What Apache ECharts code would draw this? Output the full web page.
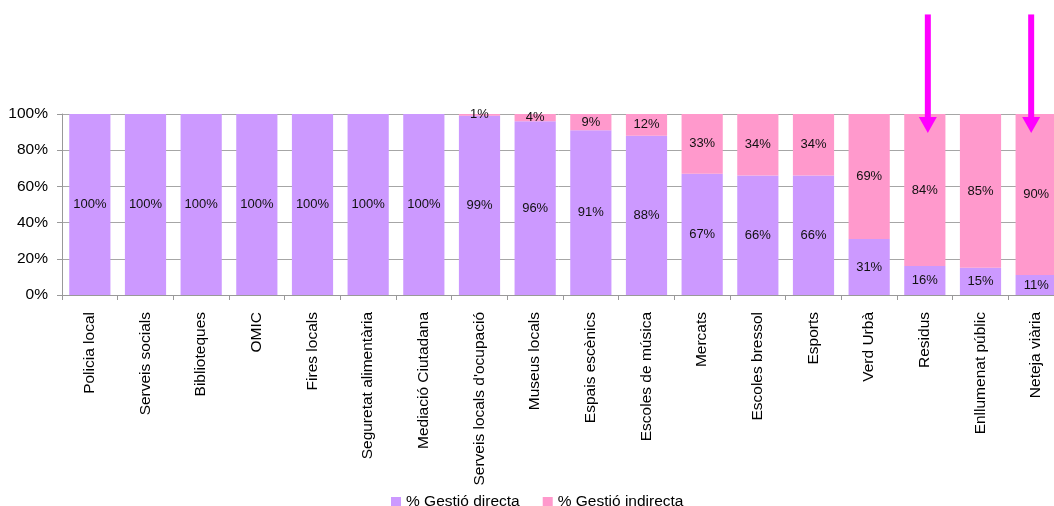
<!DOCTYPE html>
<html>
<head>
<meta charset="utf-8">
<script src="https://cdn.jsdelivr.net/npm/echarts@6/dist/echarts.min.js"></script>
<style>
  html, body { margin: 0; padding: 0; background: #fff; }
  #chart { width: 1054px; height: 506px; }
</style>
</head>
<body>
<div id="chart"></div>
<script>
// categories and values
const categories = ['Policia local', 'Serveis socials', 'Biblioteques', 'OMIC', 'Fires locals',
  'Seguretat alimentària', 'Mediació Ciutadana', "Serveis locals d'ocupació", 'Museus locals',
  'Espais escènics', 'Escoles de música', 'Mercats', 'Escoles bressol', 'Esports', 'Verd Urbà',
  'Residus', 'Enllumenat públic', 'Neteja viària']
const directa = [100, 100, 100, 100, 100, 100, 100, 99, 96, 91, 88, 67, 66, 66, 31, 16, 15, 11]
const indirecta = [0, 0, 0, 0, 0, 0, 0, 1, 4, 9, 12, 33, 34, 34, 69, 84, 85, 90]
const yTicks = [0, 20, 40, 60, 80, 100]
// arrows point down onto these categories
const arrowCats = ['Residus', 'Neteja viària']
const arrowFrom = 155
const arrowTo = 89.5

const chart = echarts.init(document.getElementById('chart'))
const font = 'Arial, "Liberation Sans", sans-serif'
const arrowShift = [3, -5]  // hand-drawn arrows sit a little off centre

const pctLabel = {
  show: true,
  position: 'inside',
  color: '#111',
  fontSize: 13,
  fontFamily: font,
  formatter: p => (p.value > 0 ? p.value + '%' : '')
}

const option = {
  animation: false,
  // the plot runs past the right edge of the picture, like the reference
  grid: { left: 62, top: 114, bottom: 211, width: 1002, containLabel: false, outerBoundsMode: 'none' },
  legend: {
    top: 489,
    left: 386,
    itemWidth: 10,
    itemHeight: 10,
    itemGap: 23,
    icon: 'rect',
    textStyle: { fontSize: 15.5, fontFamily: font, color: '#000' },
    data: ['% Gestió directa', '% Gestió indirecta']
  },
  xAxis: {
    type: 'category',
    data: categories,
    axisLine: { lineStyle: { color: '#999' } },
    axisTick: { show: true, length: 5, lineStyle: { color: '#999' } },
    axisLabel: { rotate: 90, margin: 17, fontSize: 15.5, fontFamily: font, color: '#000', interval: 0 }
  },
  yAxis: {
    type: 'value',
    min: yTicks[0],
    max: yTicks[yTicks.length - 1],
    interval: 20,
    axisLine: { show: true, lineStyle: { color: '#999' } },
    axisTick: { show: true, length: 5, lineStyle: { color: '#999' } },
    axisLabel: { formatter: '{value}%', fontSize: 15.5, fontFamily: font, color: '#000', margin: 14 },
    splitLine: { lineStyle: { color: '#a6a6a6' } }
  },
  series: [
    {
      name: '% Gestió directa',
      type: 'bar',
      stack: 'total',
      data: directa,
      barCategoryGap: '26%',
      itemStyle: { color: '#CC99FF' },
      label: pctLabel
    },
    {
      name: '% Gestió indirecta',
      type: 'bar',
      stack: 'total',
      data: indirecta,
      itemStyle: { color: '#FF99CC' },
      label: pctLabel
    }
  ]
}
chart.setOption(option)

// magenta arrows placed through the chart's own scales
const arrows = []
arrowCats.forEach((c, i) => {
  const top = chart.convertToPixel({ gridIndex: 0 }, [c, arrowFrom])
  const tip = chart.convertToPixel({ gridIndex: 0 }, [c, arrowTo])
  const x = top[0] + arrowShift[i]
  arrows.push({
    type: 'rect',
    shape: { x: x - 3, y: top[1], width: 6, height: tip[1] - top[1] - 14 },
    style: { fill: '#FF00FF' },
    z: 100
  })
  arrows.push({
    type: 'polygon',
    shape: { points: [[x - 9, tip[1] - 16], [x + 9, tip[1] - 16], [x, tip[1]]] },
    style: { fill: '#FF00FF' },
    z: 100
  })
})
chart.setOption({ graphic: arrows })
</script>
</body>
</html>
